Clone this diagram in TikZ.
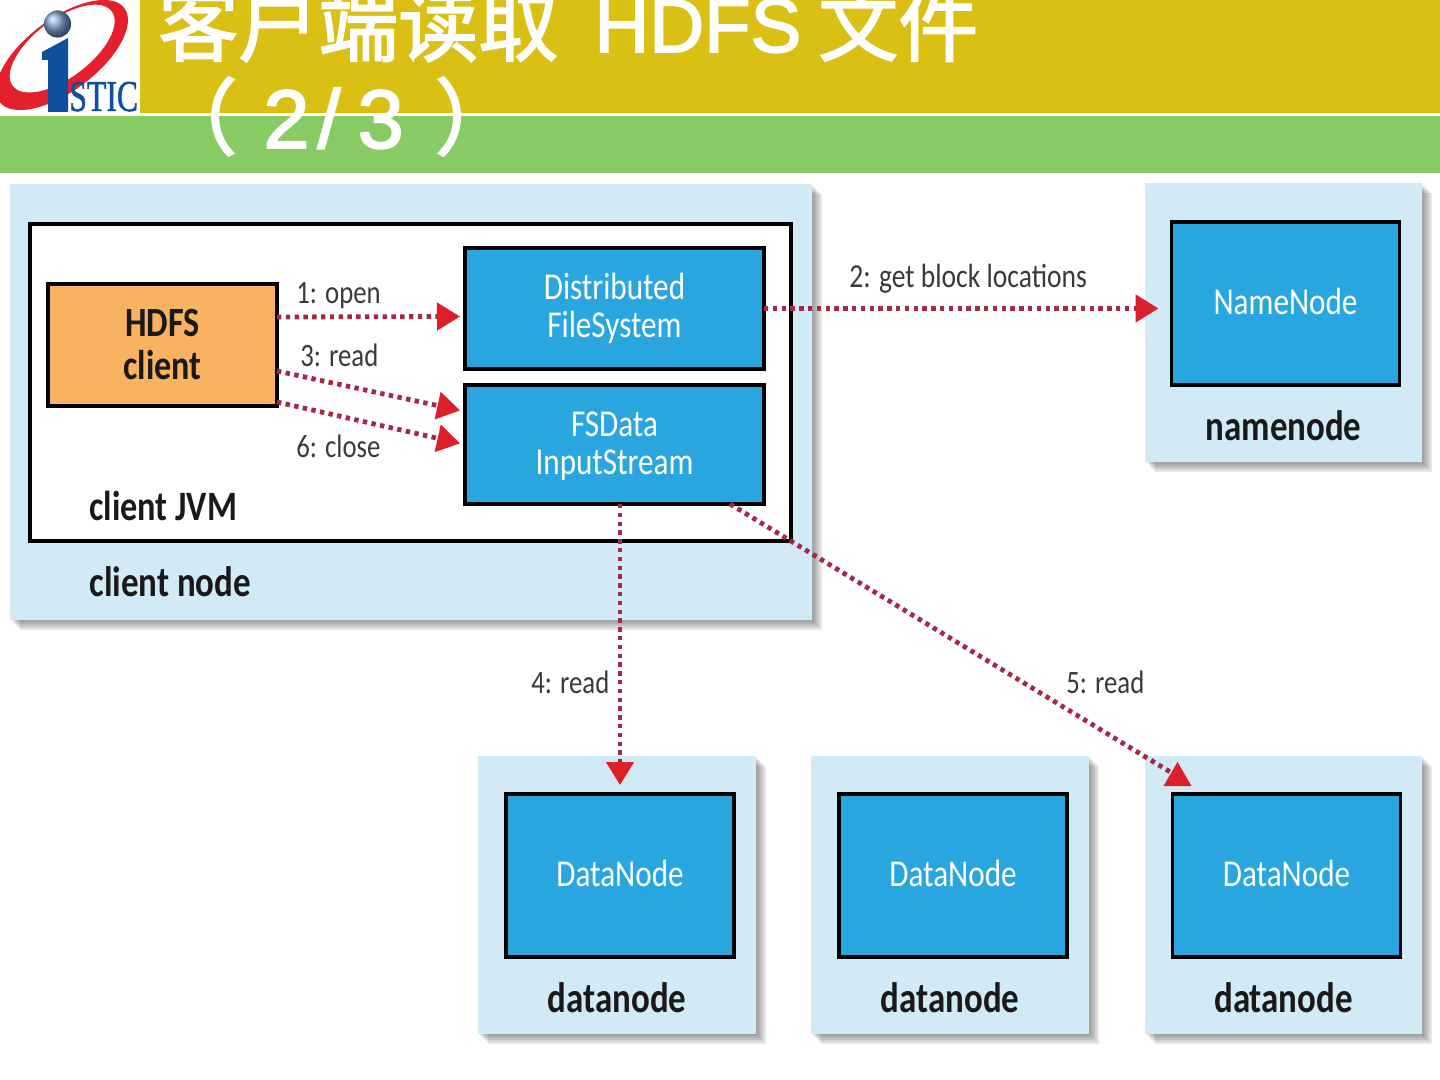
\documentclass[tikz,border=0pt]{standalone}
\usepackage{fontspec}
\usetikzlibrary{positioning, arrows.meta, shadows, calc}
\setmainfont[FakeBold=2.2]{Liberation Sans}
\newfontfamily\cjkfont[FakeBold=2.2]{Noto Sans CJK SC}
\newfontfamily\labelfont[FakeStretch=0.82]{Carlito}
\newfontfamily\logofont[FakeStretch=0.72, FakeBold=1]{Liberation Serif}
\definecolor{baryellow}{HTML}{DAC014}
\definecolor{bargreen}{HTML}{88CB64}
\definecolor{panelblue}{HTML}{D1EAF6}
\definecolor{boxblue}{HTML}{29A6E0}
\definecolor{clientorange}{HTML}{F9B25F}
\definecolor{dotred}{HTML}{A32A45}
\definecolor{tipred}{HTML}{DD1F2A}
\definecolor{logoblue}{HTML}{0F4FA0}
\definecolor{logored}{HTML}{E3202B}
\definecolor{labelgray}{HTML}{3A3A3A}

\begin{document}
\begin{tikzpicture}[
        x=0.5pt, y=-0.5pt,
        font=\labelfont,
        softshadow/.style={drop shadow={shadow xshift=#1, shadow yshift=-#1, fill=black!70, opacity=.13}},
        panel/.style={fill=panelblue, outer sep=0pt, inner sep=0pt, anchor=north west,
            softshadow=5pt, softshadow=4pt, softshadow=3pt, softshadow=2pt, softshadow=1pt},
        bloc/.style={draw=black, line width=1.7pt, fill=boxblue, text=white, align=center,
            font=\labelfont\fontsize{19}{19}\selectfont, outer sep=0pt, inner sep=0pt},
        nodebox/.style={bloc, minimum width=114pt, minimum height=81.5pt, text depth=2pt},
        panellabel/.style={font=\labelfont\bfseries\fontsize{21.3}{24}\selectfont, text=black!90, inner sep=0pt},
        steplabel/.style={font=\labelfont\fontsize{16.3}{20}\selectfont, text=labelgray, inner sep=0pt},
        titletext/.style={text=white, anchor=base west, inner sep=0pt, font=\fontsize{40}{40}\selectfont},
        punctat/.style={line width=2.4pt, draw=dotred, dash pattern=on 2.2pt off 2.2pt},
        sageata/.style={punctat, -{Triangle[length=11.5pt, width=13.5pt, color=tipred]}},
    ]
        \useasboundingbox (0,0) rectangle (1440,1080);
        \fill[white] (0,0) rectangle (1440,1080);
        % header
        \fill[baryellow] (140,0) rectangle (1440,113);
        \fill[bargreen] (0,116) rectangle (1440,173);
        % logo
        \begin{scope}
            \clip (0,0) rectangle (140,114);
            \fill[logored, even odd rule, rotate around={37:(62,55)}]
                (62,55) ellipse [x radius=39pt, y radius=18pt]
                (66,50) ellipse [x radius=31pt, y radius=14.5pt];
            \shade[ball color=logoblue!55] (57.5,24) circle [radius=6.8pt];
            \fill[logoblue] (42,52) -- (68,38) -- (68,112) -- (48,112) -- (48,60) -- (42,60) -- cycle;
        \end{scope}
        \node[text=logoblue, inner sep=0pt, anchor=base west, font=\logofont\fontsize{22}{22}\selectfont]
            (logotext) at (69,111) {STIC};
        \node[titletext] (titlea) at (158,55) {{\cjkfont 客户端读取}\hspace{18pt}\raisebox{1.5pt}{\fontsize{38}{38}\selectfont HDFS}\hspace{8.5pt}{\cjkfont 文件}};
        \node[titletext, font=\fontsize{41.5}{41.5}\selectfont] (titleb) at (154,148) {{\cjkfont （}\hspace{13pt}2\hspace{4pt}/\hspace{8.5pt}3\hspace{15.5pt}{\cjkfont ）}};
        % client side
        \node[panel, minimum width=401pt, minimum height=218pt] (clientnode) at (10,184) {};
        \node[draw=black, line width=1.7pt, fill=white, anchor=north west, outer sep=0pt,
            minimum width=380.5pt, minimum height=158.5pt] (jvm) at (30,224) {};
        \node[bloc, fill=clientorange, text=black!90, anchor=north west, minimum width=114.5pt, minimum height=61pt,
            font=\labelfont\bfseries\fontsize{20.8}{21.5}\selectfont] (hdfs) at (48,284) {HDFS\\client};
        \node[bloc, anchor=north west, minimum width=149.5pt, minimum height=60.5pt] (dfs) at (465,248) {Distributed\\FileSystem};
        \node[bloc, below=8pt of dfs, minimum width=149.5pt, minimum height=59.5pt] (fsdata) {\rule{0pt}{14pt}FSData\\InputStream};
        \node[panellabel, anchor=base west, font=\labelfont\bfseries\fontsize{20.9}{24}\selectfont] (jvmlabel) at (89,520) {client JVM};
        \node[panellabel, anchor=base west] (clientlabel) at (89,596) {client node};
        % name node
        \node[panel, minimum width=138.5pt, minimum height=139.5pt] (namepanel) at (1145,183) {};
        \node[nodebox, below=19.5pt of namepanel.north, anchor=north, xshift=1pt] (namebox) {NameNode};
        \node[panellabel, below=12.5pt of namebox, xshift=-1pt] (namelabel) {namenode};
        % data nodes
        \node[panel, minimum width=139pt, minimum height=139pt] (datapanela) at (478,756) {};
        \node[panel, minimum width=139pt, minimum height=139pt, right=27.5pt of datapanela.north east, anchor=north west] (datapanelb) {};
        \node[panel, minimum width=138.5pt, minimum height=139pt, right=28pt of datapanelb.north east, anchor=north west] (datapanelc) {};
        \foreach \nume in {a,b,c} {
            \node[nodebox, below=19pt of datapanel\nume.north, anchor=north, xshift=1.5pt] (databox\nume) {DataNode};
            \node[panellabel, below=12.5pt of databox\nume, xshift=-1.5pt] (datalabel\nume) {datanode};
        }
        % arrows
        \draw[sageata, shorten >=2.5pt] ([yshift=14pt]hdfs.east) -- ([yshift=-4pt]dfs.west);
        \draw[sageata, shorten >=2.5pt] ([yshift=-13pt]hdfs.east) -- ([yshift=16.5pt]fsdata.west);
        \draw[sageata, shorten >=2.5pt] ([yshift=-28.5pt]hdfs.east) -- (fsdata.west);
        \draw[sageata, shorten >=6.5pt] (dfs.east) -- (dfs.east -| namebox.west);
        \draw[sageata, shorten >=4.5pt] (databoxa.north |- fsdata.south) -- (databoxa.north);
        % this head stands upright
        \coordinate (tipfive) at ([xshift=2.5pt,yshift=4pt]databoxc.north west);
        \draw[punctat] ([xshift=-17pt]fsdata.south east) -- ([xshift=-2pt,yshift=6pt]tipfive);
        \fill[tipred] (tipfive) ++(-14,0) -- ++(28,0) -- ++(-14,-24) -- cycle;
        % step labels
        \node[steplabel, anchor=base west] (stepa) at (296,304) {1: open};
        \node[steplabel, anchor=base west] (stepc) at (300,367) {3: read};
        \node[steplabel, anchor=base west] (stepf) at (296,458) {6: close};
        \node[steplabel, anchor=base west, font=\labelfont\fontsize{16.8}{20}\selectfont] (stepb) at (849,288) {2: get block locations};
        \node[steplabel, anchor=base west] (stepd) at (531,693) {4: read};
        \node[steplabel, anchor=base west] (stepe) at (1066,693) {5: read};
\end{tikzpicture}
\end{document}
